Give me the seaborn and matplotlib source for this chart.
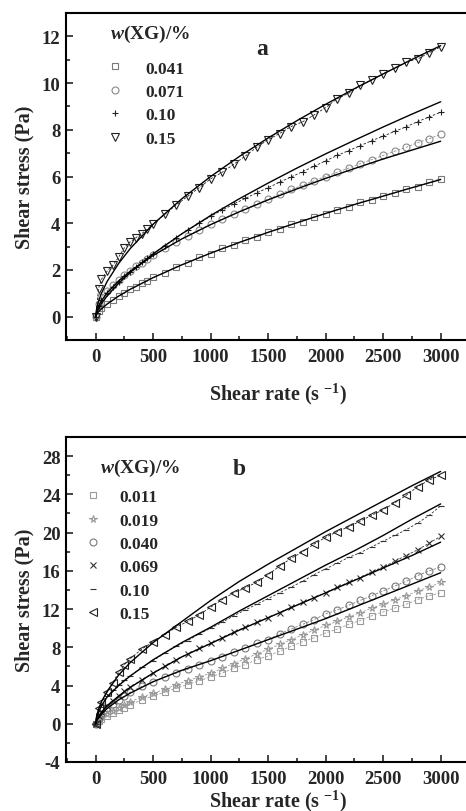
import seaborn as sns
import matplotlib.pyplot as plt
from matplotlib.lines import Line2D
from matplotlib.ticker import MultipleLocator

# ---- panel a : shear rate grid and measured shear stress (Pa)
rate_a = [0, 25, 50, 100, 150, 200, 250, 300, 350, 400, 450, 500,
          600, 700, 800, 900, 1000, 1100, 1200, 1300, 1400, 1500, 1600, 1700,
          1800, 1900, 2000, 2100, 2200, 2300, 2400, 2500, 2600, 2700, 2800,
          2900, 3000]
a_041 = [0, 0.25, 0.38, 0.55, 0.70, 0.90, 1.00, 1.18, 1.28, 1.45, 1.52, 1.68,
         1.88, 2.14, 2.30, 2.55, 2.70, 2.93, 3.05, 3.28, 3.40, 3.62, 3.75, 3.96,
         4.07, 4.28, 4.40, 4.58, 4.70, 4.90, 5.00, 5.18, 5.30, 5.47, 5.56, 5.75, 5.90]
a_071 = [0, 0.55, 0.85, 1.10, 1.35, 1.55, 1.78, 1.95, 2.15, 2.28, 2.48, 2.62,
         2.92, 3.20, 3.45, 3.72, 3.95, 4.18, 4.40, 4.62, 4.82, 5.04, 5.24, 5.45,
         5.62, 5.82, 6.00, 6.18, 6.36, 6.55, 6.72, 6.90, 7.08, 7.25, 7.45, 7.62, 7.80]
a_10 = [0, 0.45, 0.70, 1.00, 1.25, 1.50, 1.72, 1.92, 2.12, 2.32, 2.50, 2.68,
        3.04, 3.38, 3.70, 4.00, 4.30, 4.56, 4.82, 5.06, 5.30, 5.52, 5.76, 5.98,
        6.21, 6.44, 6.67, 6.90, 7.11, 7.32, 7.53, 7.73, 7.93, 8.13, 8.35, 8.55, 8.75]
a_15 = [0, 1.20, 1.60, 1.95, 2.20, 2.55, 2.95, 3.20, 3.38, 3.55, 3.75, 3.95,
        4.38, 4.78, 5.15, 5.52, 5.90, 6.18, 6.52, 6.87, 7.25, 7.58, 7.84, 8.14,
        8.34, 8.64, 8.95, 9.33, 9.56, 9.90, 10.12, 10.40, 10.64, 10.90, 11.03, 11.30, 11.55]

# model fits (solid lines), panel a
fit_rate = [0, 10, 25, 50, 100, 200, 300, 500, 750, 1000, 1250, 1500, 1750,
            2000, 2250, 2500, 2750, 3000]
fa_041 = [0, 0.11, 0.21, 0.33, 0.54, 0.88, 1.17, 1.67, 2.22, 2.72, 3.18, 3.61,
          4.02, 4.42, 4.80, 5.16, 5.52, 5.87]
fa_071 = [0, 0.26, 0.45, 0.68, 1.02, 1.53, 1.94, 2.62, 3.33, 3.94, 4.49, 5.00,
          5.47, 5.92, 6.34, 6.75, 7.13, 7.51]
fa_10 = [0, 0.18, 0.34, 0.55, 0.89, 1.43, 1.89, 2.69, 3.55, 4.33, 5.05, 5.72,
         6.36, 6.97, 7.55, 8.12, 8.67, 9.20]
fa_15 = [0, 0.38, 0.66, 1.00, 1.51, 2.28, 2.91, 3.96, 5.05, 6.00, 6.86, 7.65,
         8.39, 9.09, 9.76, 10.39, 11.01, 11.60]

# ---- panel b
rate_b = [0, 25, 50, 100, 150, 200, 250, 300, 400, 500, 600, 700, 800, 900,
          1000, 1100, 1200, 1300, 1400, 1500, 1600, 1700, 1800, 1900, 2000,
          2100, 2200, 2300, 2400, 2500, 2600, 2700, 2800, 2900, 3000]
b_011 = [0, 0.3, 0.5, 0.8, 1.1, 1.4, 1.7, 2.0, 2.5, 2.9, 3.3, 3.7, 4.1, 4.5,
         4.9, 5.3, 5.8, 6.2, 6.7, 7.1, 7.6, 8.1, 8.6, 9.0, 9.5, 9.9, 10.4, 10.8,
         11.3, 11.7, 12.1, 12.5, 13.0, 13.4, 13.7]
b_019 = [0, 0.4, 0.7, 1.0, 1.3, 1.7, 2.0, 2.3, 2.8, 3.2, 3.6, 4.1, 4.5, 4.9,
         5.3, 5.8, 6.3, 6.8, 7.3, 7.8, 8.3, 8.8, 9.3, 9.8, 10.3, 10.7, 11.2, 11.6,
         12.1, 12.5, 13.0, 13.4, 13.9, 14.3, 14.8]
b_040 = [0, 0.6, 1.0, 1.6, 2.1, 2.5, 2.9, 3.3, 3.9, 4.4, 4.9, 5.3, 5.7, 6.2,
         6.6, 7.0, 7.5, 7.9, 8.4, 8.8, 9.4, 9.9, 10.4, 10.9, 11.5, 11.9, 12.4, 12.9,
         13.4, 13.9, 14.4, 14.9, 15.5, 16.0, 16.4]
b_069 = [0, 0.8, 1.2, 1.9, 2.4, 2.9, 3.4, 3.8, 4.6, 5.3, 6.0, 6.7, 7.3, 7.9,
         8.4, 9.0, 9.6, 10.1, 10.6, 11.1, 11.6, 12.2, 12.7, 13.2, 13.7, 14.3, 14.8,
         15.3, 15.9, 16.4, 17.0, 17.6, 18.2, 18.9, 19.6]
b_10 = [0, 1.0, 1.8, 2.9, 3.5, 4.1, 4.6, 5.0, 5.9, 6.6, 7.4, 8.1, 8.7, 9.4,
        10.0, 10.6, 11.3, 11.9, 12.5, 13.1, 13.7, 14.3, 14.9, 15.6, 16.2, 16.8,
        17.4, 17.9, 18.5, 19.1, 19.7, 20.3, 21.0, 21.8, 22.8]
b_15 = [0, 1.6, 2.3, 3.3, 4.3, 5.4, 6.2, 6.8, 7.8, 8.6, 9.3, 10.1, 10.7, 11.4,
        12.2, 13.0, 13.7, 14.2, 14.8, 15.6, 16.5, 17.3, 18.0, 18.8, 19.5, 20.1,
        20.6, 21.2, 21.8, 22.4, 23.1, 23.9, 24.8, 25.5, 26.0]

fb_040 = [0, 0.35, 0.6, 1.0, 1.6, 2.5, 3.2, 4.4, 5.6, 6.6, 7.7, 8.8, 9.9,
          11.0, 12.2, 13.4, 14.6, 15.8]
fb_069 = [0, 0.4, 0.7, 1.2, 1.9, 2.9, 3.8, 5.3, 7.0, 8.4, 9.8, 11.1, 12.4,
          13.7, 15.0, 16.3, 17.6, 19.0]
fb_10 = [0, 0.7, 1.2, 1.9, 2.8, 4.0, 5.0, 6.7, 8.5, 10.1, 11.8, 13.4, 15.0,
         16.6, 18.1, 19.7, 21.4, 23.0]
fb_15 = [0, 0.9, 1.5, 2.3, 3.4, 5.1, 6.4, 8.5, 10.7, 12.9, 14.9, 16.7, 18.4,
         20.1, 21.7, 23.3, 24.9, 26.4]

labels_a = ['0.041', '0.071', '0.10', '0.15']
labels_b = ['0.011', '0.019', '0.040', '0.069', '0.10', '0.15']

sns.set_style('ticks')
plt.rcParams['font.family'] = ['Liberation Serif', 'DejaVu Serif']
plt.rcParams['font.weight'] = 'bold'
plt.rcParams['axes.unicode_minus'] = False
plt.rcParams['mathtext.fontset'] = 'custom'
plt.rcParams['mathtext.rm'] = 'Liberation Serif:bold'
plt.rcParams['mathtext.bf'] = 'Liberation Serif:bold'
plt.rcParams['mathtext.it'] = 'Liberation Serif:italic:bold'

fig = plt.figure(figsize=(4.66, 8.12), dpi=100)
ax_a = fig.add_axes([66 / 466, 1 - 341 / 812, 424 / 466, 327 / 812])
ax_b = fig.add_axes([66 / 466, 1 - 763 / 812, 424 / 466, 325 / 812])


def draw_series(ax, x, y, marker, color, ms):
    sns.lineplot(x=x, y=y, ax=ax, color=color, linewidth=0.6,
                 linestyle=(0, (3, 2)), marker=marker, markersize=ms,
                 markerfacecolor='none', markeredgecolor=color,
                 markeredgewidth=0.8, errorbar=None)


def draw_fit(ax, y):
    sns.lineplot(x=fit_rate, y=y, ax=ax, color='black', linewidth=1.0,
                 errorbar=None)


# panel a
style_a = [('s', '#7a7a7a', 4.5), ('o', '#8a8a8a', 5), ('+', '#222222', 4),
           ('v', '#222222', 5.5)]
for vals, (m, c, s) in zip([a_041, a_071, a_10, a_15], style_a):
    draw_series(ax_a, rate_a, vals, m, c, s)
for f in [fa_041, fa_071, fa_10, fa_15]:
    draw_fit(ax_a, f)

# panel b
style_b = [('s', '#9a9a9a', 4.5), ('*', '#9a9a9a', 5.5), ('o', '#7a7a7a', 5),
           ('x', '#333333', 4.5), ('_', '#333333', 5), ('<', '#222222', 5.5)]
for vals, (m, c, s) in zip([b_011, b_019, b_040, b_069, b_10, b_15], style_b):
    draw_series(ax_b, rate_b, vals, m, c, s)
for f in [fb_040, fb_069, fb_10, fb_15]:
    draw_fit(ax_b, f)

for ax, ylim, ymaj, ymin in [(ax_a, (-1, 13), 2, 1), (ax_b, (-4, 30), 4, 2)]:
    ax.set_xlim(-258, 3429)
    ax.set_ylim(*ylim)
    ax.xaxis.set_major_locator(MultipleLocator(500))
    ax.xaxis.set_minor_locator(MultipleLocator(250))
    ax.yaxis.set_major_locator(MultipleLocator(ymaj))
    ax.yaxis.set_minor_locator(MultipleLocator(ymin))
    ax.tick_params(which='both', direction='in', width=1.2, labelsize=13.5,
                   top=False, right=False)
    ax.tick_params(which='major', length=5)
    ax.tick_params(which='minor', length=3)
    ax.tick_params(axis='x', pad=6)
    ax.tick_params(axis='y', pad=4)
    for sp in ax.spines.values():
        sp.set_linewidth(1.5)
        sp.set_color('black')
    ax.set_ylabel('Shear stress (Pa)', fontsize=14.5, fontweight='bold', labelpad=5)

ax_a.set_xlabel(r'Shear rate (s $^{-1}$)', fontsize=14.5, fontweight='bold', labelpad=11)
ax_b.set_xlabel(r'Shear rate (s $^{-1}$)', fontsize=14.5, fontweight='bold', labelpad=0)

ax_a.text(0.462, 0.89, 'a', transform=ax_a.transAxes, fontsize=17,
          fontweight='bold', ha='center', va='center')
ax_b.text(0.408, 0.902, 'b', transform=ax_b.transAxes, fontsize=17,
          fontweight='bold', ha='center', va='center')

ax_a.text(0.198, 0.939, r'$\mathit{w}$(XG)/%', transform=ax_a.transAxes,
          fontsize=14, fontweight='bold', ha='center', va='center')
ax_b.text(0.175, 0.905, r'$\mathit{w}$(XG)/%', transform=ax_b.transAxes,
          fontsize=14, fontweight='bold', ha='center', va='center')


def handles(styles):
    return [Line2D([], [], linestyle='none', marker=m, markersize=s,
                   markerfacecolor='none', markeredgecolor=c,
                   markeredgewidth=0.8) for m, c, s in styles]


ax_a.legend(handles(style_a), labels_a, loc='upper left',
            bbox_to_anchor=(0.096, 0.855), frameon=False, fontsize=12.5,
            borderpad=0, borderaxespad=0, handlelength=1.0,
            handletextpad=1.25, labelspacing=0.42)
ax_b.legend(handles(style_b), labels_b, loc='upper left',
            bbox_to_anchor=(0.044, 0.84), frameon=False, fontsize=12.5,
            borderpad=0, borderaxespad=0, handlelength=1.0,
            handletextpad=1.0, labelspacing=0.42)

fig.savefig('out.png', dpi=100)
